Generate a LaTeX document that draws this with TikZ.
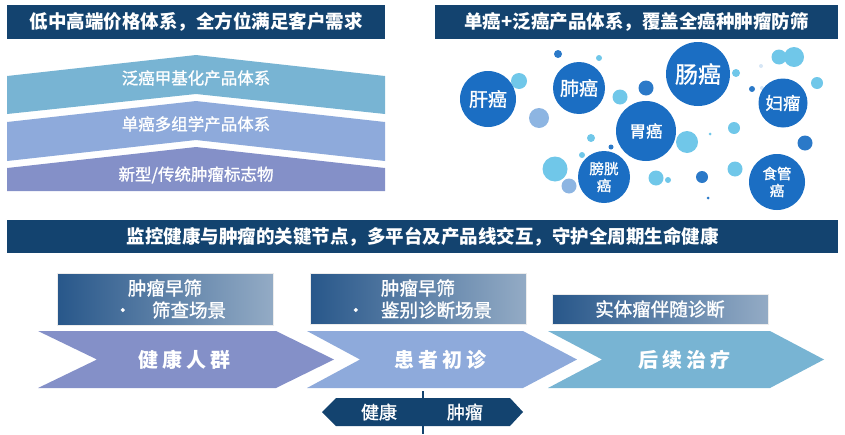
\documentclass[tikz,border=0pt]{standalone}
\usepackage{fontspec}
\setmainfont{Noto Sans CJK SC}
\newfontfamily\cjk{Noto Sans CJK SC}
\newfontfamily\cjkmed[FakeBold=1.2]{Noto Sans CJK SC}
\usetikzlibrary{shapes.geometric}
\definecolor{navy}{HTML}{13436F}
\definecolor{lay1}{HTML}{78B4D3}
\definecolor{lay2}{HTML}{8EAADB}
\definecolor{lay3}{HTML}{8490C8}
\definecolor{bigb}{HTML}{1B6EC3}
\definecolor{lightb}{HTML}{70C7E9}
\definecolor{perib}{HTML}{8DB5E2}
\definecolor{darkb}{HTML}{2B79C8}
\definecolor{paleb}{HTML}{D6E6F5}
\definecolor{gradL}{HTML}{28578A}
\definecolor{gradR}{HTML}{93ABC5}
\tikzset{
  banner/.style={fill=navy, draw=none, text=white, font=\cjk\bfseries\fontsize{18.5}{22}\selectfont},
  laytext/.style={text=white, font=\cjkmed\fontsize{16.5}{19}\selectfont},
  bigbub/.style={circle, fill=bigb, text=white, inner sep=0pt, align=center},
  gbox/.style={left color=gradL, right color=gradR, draw=white!85!gray, line width=0.6pt},
  boxtext/.style={text=white, font=\cjkmed\fontsize{18.5}{22}\selectfont, align=center},
  chevtext/.style={text=white, font=\cjk\bfseries\fontsize{20}{23}\selectfont},
  arrtext/.style={text=white, font=\cjkmed\fontsize{18}{21}\selectfont},
}
\begin{document}
\begin{tikzpicture}[x=1pt,y=-1pt]
\useasboundingbox (0,0) rectangle (845,434);

% ---------- top banners ----------
\node[banner, minimum width=378pt, minimum height=34pt, inner sep=0pt] (b1) at (196,22) {低中高端价格体系，全方位满足客户需求};
\node[banner, minimum width=403pt, minimum height=34pt, inner sep=0pt] (b2) at (636.5,22) {单癌+泛癌产品体系，覆盖全癌种肿瘤防筛};

% ---------- layered chevrons ----------
\fill[lay1] (7,76) -- (196,55) -- (385,76) -- (385,114) -- (196,94) -- (7,114) -- cycle;
\fill[lay2] (7,122) -- (196,101) -- (385,122) -- (385,161) -- (196,140) -- (7,161) -- cycle;
\fill[lay3] (7,168) -- (196,147) -- (385,168) -- (385,191) -- (7,191) -- cycle;
\node[laytext] (t1) at (196,78) {泛癌甲基化产品体系};
\node[laytext] (t2) at (196,124) {单癌多组学产品体系};
\node[laytext] (t3) at (196,175) {新型/传统肿瘤标志物};

% ---------- small bubbles ----------
\foreach \x/\y/\r/\c in {
  558/54/4/darkb, 599/58/3/lightb, 519/81/8/lightb, 539/118/10/perib,
  620/97/7.5/lightb, 646/88/7.5/darkb, 591/138/4/lightb, 611/147/2.5/darkb,
  582/155/3/lightb, 555/169/12.5/lightb, 569/186/7.5/perib, 656/178/7.5/lightb,
  668/180/3/lightb, 687/142/11/lightb, 702/177/6/darkb, 710/134/1.5/lightb,
  708/198/1.5/darkb, 734/128/6/lightb, 735/169/7.5/lightb, 736/73/4/lightb,
  779/57/7.5/lightb, 794/57/10/lightb, 761/66/2/paleb, 752/89/3/darkb,
  762/88/2/paleb, 817/83/6/lightb, 805/143/7.5/darkb}
  \fill[\c] (\x,\y) circle[radius=\r];

% ---------- big bubbles ----------
\node[bigbub, minimum size=56pt, font=\cjkmed\fontsize{19}{22}\selectfont] (gan) at (488,99) {肝癌};
\node[bigbub, minimum size=52pt, font=\cjkmed\fontsize{19}{22}\selectfont] (fei) at (579,88) {肺癌};
\node[bigbub, minimum size=64pt, font=\cjkmed\fontsize{23}{26}\selectfont] (chang) at (698,74) {肠癌};
\node[bigbub, minimum size=49pt, font=\cjkmed\fontsize{17.5}{20}\selectfont] (fu) at (783,103) {妇瘤};
\node[bigbub, minimum size=60pt, font=\cjkmed\fontsize{16.5}{19}\selectfont] (wei) at (646,131) {胃癌};
\node[bigbub, minimum size=52pt, font=\cjkmed\fontsize{14.5}{17}\selectfont] (pang) at (604,177) {膀胱\\癌};
\node[bigbub, minimum size=56pt, font=\cjkmed\fontsize{14.5}{17}\selectfont] (shi) at (777,182) {食管\\癌};

% ---------- middle banner ----------
\node[banner, minimum width=831pt, minimum height=33pt, inner sep=0pt] (b3) at (422.5,236.5) {监控健康与肿瘤的关键节点，多平台及产品线交互，守护全周期生命健康};

% ---------- gradient boxes ----------
\node[gbox, minimum width=216pt, minimum height=52pt, inner sep=0pt] (g1) at (165,299) {};
\node[boxtext] (g1a) at (165,288) {肿瘤早筛};
\node[boxtext, anchor=west] (g1b) at (110,310) {•\hspace{20pt}筛查场景};
\node[gbox, minimum width=216pt, minimum height=51pt, inner sep=0pt] (g2) at (418,298.5) {};
\node[boxtext] (g2a) at (418,288) {肿瘤早筛};
\node[boxtext, anchor=west] (g2b) at (343,310) {•\hspace{16pt}鉴别诊断场景};
\node[gbox, minimum width=216pt, minimum height=30pt, inner sep=0pt] (g3) at (660,309) {};
\node[boxtext] (g3a) at (660,309) {实体瘤伴随诊断};

% ---------- process chevrons ----------
\fill[lay3] (38,331) -- (276,331) -- (334,359.5) -- (276,388) -- (38,388) -- (97,359.5) -- cycle;
\fill[lay2] (307,331) -- (523,331) -- (577,359.5) -- (523,388) -- (307,388) -- (360,359.5) -- cycle;
\fill[lay1] (548,331) -- (770,331) -- (824,359.5) -- (770,388) -- (548,388) -- (602,359.5) -- cycle;
\node[chevtext] (c1) at (184,360) {健\hspace{4pt}康\hspace{4pt}人\hspace{4pt}群};
\node[chevtext] (c2) at (440,360) {患\hspace{4pt}者\hspace{4pt}初\hspace{4pt}诊};
\node[chevtext] (c3) at (684,360) {后\hspace{4pt}续\hspace{4pt}治\hspace{4pt}疗};

% ---------- double arrow ----------
\fill[navy] (322,412) -- (336,398) -- (510,398) -- (523,412) -- (510,426) -- (336,426) -- cycle;
\coordinate (vtop) at (423,391);
\coordinate (vbot) at (423,434);
\draw[navy, line width=1.4pt] (vtop) -- (vbot);
\node[arrtext] (h1) at (379,412) {健康};
\node[arrtext] (h2) at (465,412) {肿瘤};
\end{tikzpicture}
\end{document}
